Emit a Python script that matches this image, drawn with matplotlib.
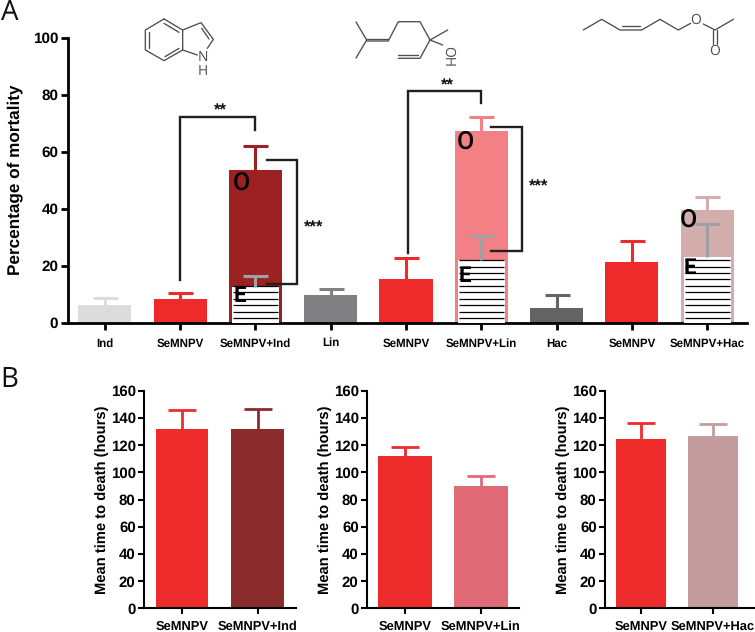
import numpy as np
import matplotlib
matplotlib.use("Agg")
import matplotlib.pyplot as plt

plt.rcParams["text.hinting"] = "none"

W, H = 755, 632
BOLD = "Liberation Sans"

# Panel A
a_labels = ["Ind", "SeMNPV", "SeMNPV+Ind", "Lin", "SeMNPV", "SeMNPV+Lin", "Hac", "SeMNPV", "SeMNPV+Hac"]
a_values = [6.0, 8.3, 53.5, 9.7, 15.2, 67.3, 5.2, 21.2, 39.5]
a_tops = [8.5, 10.2, 62.0, 11.8, 22.8, 72.1, 9.5, 28.6, 43.9]
a_colors = ["#DCDCDC", "#EE2A2A", "#9B2122", "#808083", "#EE2A2A", "#F38084", "#646467", "#EE2A2A", "#D4ADAD"]

# exposed (E) part of the stacked bars
e_positions = [2, 5, 8]
e_values = [12.5, 21.9, 23.1]
e_tops = [16.3, 30.5, 34.5]
e_err_color = "#A0A0A5"

# Panel B
b_labels = [["SeMNPV", "SeMNPV+Ind"], ["SeMNPV", "SeMNPV+Lin"], ["SeMNPV", "SeMNPV+Hac"]]
b_values = [[131.8, 131.8], [112.0, 90.2], [124.7, 126.9]]
b_tops = [[145.8, 146.3], [118.4, 97.3], [136.0, 135.8]]
b_colors = [["#EE2C2C", "#8A2C2C"], ["#EE2C2C", "#E06A75"], ["#EE2C2C", "#C49C9E"]]
b_frames = [(144, 296), (367, 519), (605, 755)]
b_ticks = [(182, 257.7), (405, 481), (641, 713)]


def make_axes(left, right, top, bottom):
    return fig.add_axes([left / W, 1 - bottom / H, (right - left) / W, (bottom - top) / H])


def style_axes(ax, lw, ticklen, ysize, xsize, xpad):
    ax.spines["top"].set_visible(False)
    ax.spines["right"].set_visible(False)
    ax.spines["left"].set_linewidth(lw)
    ax.spines["bottom"].set_linewidth(lw)
    ax.tick_params(axis="y", width=lw, length=ticklen, labelsize=ysize, pad=2)
    ax.tick_params(axis="x", width=lw, length=ticklen, labelsize=xsize, pad=xpad)
    for t in ax.get_xticklabels() + ax.get_yticklabels():
        t.set_fontfamily(BOLD)
        t.set_fontweight("bold")


def draw_err(ax, x, value, top, color, lw, cap):
    eb = ax.errorbar([x], [value], yerr=[[0], [top - value]], color=color, elinewidth=lw,
                     capsize=cap, capthick=lw, fmt="none", zorder=4)
    # only the upper cap is wanted
    eb[1][0].set_visible(False)


def bracket(ax, xs, ys):
    ax.plot(xs, ys, color="#231F20", lw=1.7, solid_joinstyle="miter", clip_on=False, zorder=5)


fig = plt.figure(figsize=(W / 100, H / 100), dpi=100, facecolor="white")

# ---- panel A ----
ax = make_axes(68, 747, 37.5, 322.5)
xpos = np.arange(len(a_values))
ax.bar(xpos, a_values, width=0.705, color=a_colors, zorder=2)
for x, v, t, c in zip(xpos, a_values, a_tops, a_colors):
    draw_err(ax, x, v, t, c, 2.2, 9)
for x, v, t in zip(e_positions, e_values, e_tops):
    ax.bar(x, v, width=0.625, color="white", zorder=3)
    ax.hlines(np.arange(1.6, v + 0.5, 2.25), x - 0.3, x + 0.3, color="black", lw=0.9, zorder=3)
    draw_err(ax, x, v, t, e_err_color, 2.2, 9)
ax.set_xlim(-0.49, 8.53)
ax.set_ylim(0, 100)
ax.set_yticks([0, 20, 40, 60, 80, 100])
ax.set_xticks(xpos)
ax.set_xticklabels(a_labels)
ax.set_ylabel("Percentage of mortality", fontsize=12.3, family=BOLD, fontweight="bold", labelpad=7)
style_axes(ax, 2.0, 5, 11, 8.3, 6)

# significance brackets
bracket(ax, [1.0, 1.0, 2.0, 2.0], [14.9, 72.0, 72.0, 67.5])
bracket(ax, [2.15, 2.55, 2.55, 2.15], [57.0, 57.0, 13.5, 13.5])
bracket(ax, [4.03, 4.03, 5.0, 5.0], [24.4, 81.2, 81.2, 76.9])
bracket(ax, [5.13, 5.54, 5.54, 5.13], [68.7, 68.7, 25.2, 25.2])

# ---- panel B ----
for i in range(3):
    left, right = b_frames[i]
    t0, t1 = b_ticks[i]
    unit = t1 - t0
    ax = make_axes(left, right, 390.7, 608.3)
    ax.bar([0, 1], b_values[i], width=0.7, color=b_colors[i], zorder=2)
    for x in [0, 1]:
        draw_err(ax, x, b_values[i][x], b_tops[i][x], b_colors[i][x], 2.0, 10)
    ax.set_xlim((left - t0) / unit, (right - t0) / unit)
    ax.set_ylim(0, 160)
    ax.set_yticks(range(0, 161, 20))
    ax.set_xticks([0, 1])
    ax.set_xticklabels(b_labels[i])
    ax.set_ylabel("Mean time to death (hours)", fontsize=10.6, family=BOLD, fontweight="bold", labelpad=1)
    style_axes(ax, 1.5, 4, 10.8, 9.3, 5)

# ---- overlay in pixel coordinates: letters, stars, molecules ----
ov = fig.add_axes([0, 0, 1, 1], zorder=10)
ov.set_xlim(0, W)
ov.set_ylim(H, 0)
ov.axis("off")
ov.patch.set_alpha(0)

ov.text(1, 13, "A", fontsize=20, family="Open Sans", va="center", ha="left", color="#111111")
ov.text(0, 380, "B", fontsize=20, family="Open Sans", va="center", ha="left", color="#111111")

for x, y, s in [(220.7, 111, "**"), (314, 228, "***"), (447, 86, "**"), (539, 187, "***")]:
    ov.text(x, y, s, fontsize=12, family=BOLD, fontweight="bold", ha="center", va="center", color="#111111")

for x, y in [(241.7, 183), (465, 142), (688.5, 220)]:
    ov.text(x, y, "O", fontsize=18, family="Roboto", fontweight="medium", ha="center", va="center", color="black")
for x, y in [(240, 296), (465, 276), (690, 268)]:
    ov.text(x, y, "E", fontsize=16, family="Roboto", fontweight="bold", ha="center", va="center", color="black")


def chain(points):
    xs, ys = zip(*points)
    ov.plot(xs, ys, color="#4D4D4F", lw=0.95, solid_capstyle="round")


def z1(x, y):
    return (x / 3, y / 3)


def z2(x, y):
    return (370 + x / 3, y / 3)


# indole
chain([z1(*p) for p in [(492, 57), (548, 90), (548, 150), (492, 182), (436, 150), (436, 90), (492, 57)]])
chain([z1(*p) for p in [(548, 90), (603, 68), (640, 118), (622, 145)]])
chain([z1(*p) for p in [(548, 150), (592, 165)]])
chain([z1(*p) for p in [(492, 70), (537, 97)]])
chain([z1(*p) for p in [(447, 97), (447, 143)]])
chain([z1(*p) for p in [(495, 170), (537, 145)]])
chain([z1(*p) for p in [(605, 85), (627, 117)]])
ov.text(*z1(608, 172), "N", fontsize=10, family="Open Sans", ha="center", va="center", color="#4D4D4F")
ov.text(*z1(608, 215), "H", fontsize=10, family="Open Sans", ha="center", va="center", color="#4D4D4F")

# linalool
chain([(356, 22), (366.7, 40), (356, 58)])
chain([(366.7, 38.5), (388.3, 38.5)])
chain([(366.7, 41), (388.3, 41), (398.3, 21.7), (420, 21.7), (430, 40), (447.7, 30)])
chain([(430, 40), (420, 58.3), (398.3, 58.3)])
chain([(418, 54.5), (398.3, 54.5)])
chain([(430, 40), (442.7, 45)])
ov.text(447.7, 57, "OH", fontsize=10, family="Open Sans", rotation=270, ha="center", va="center", color="#4D4D4F")

# cis-3-hexenyl acetate
chain([z2(*p) for p in [(640, 90), (695, 58), (750, 90), (815, 90), (870, 58), (925, 90), (962, 70)]])
chain([z2(*p) for p in [(755, 77), (810, 77)]])
chain([z2(*p) for p in [(1000, 72), (1035, 90), (1090, 58)]])
chain([z2(*p) for p in [(1029, 90), (1029, 132)]])
chain([z2(*p) for p in [(1040, 90), (1040, 132)]])
ov.text(*z2(978, 60), "O", fontsize=10, family="Open Sans", ha="center", va="center", color="#4D4D4F")
ov.text(*z2(1035, 155), "O", fontsize=10, family="Open Sans", ha="center", va="center", color="#4D4D4F")

fig.savefig("out.png", dpi=100)
